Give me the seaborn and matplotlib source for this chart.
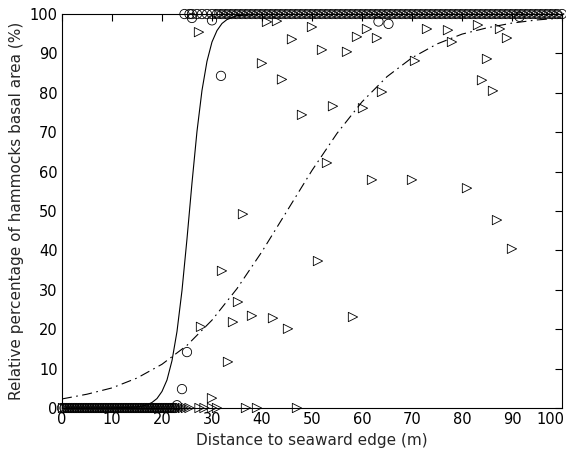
import matplotlib
matplotlib.use("Agg")
import matplotlib.pyplot as plt
import matplotlib.transforms as mtransforms
import seaborn as sns
import pandas as pd

# observations sitting on the 0 % line (circles = first group, triangles = second group)
circ_zero_x = [0, 0.5, 1, 1.5, 2, 2.5, 3, 3.5, 4, 4.5, 5, 5.5, 6, 6.5, 7, 7.5, 8, 8.5,
               9, 9.5, 10, 10.5, 11, 11.5, 12, 12.5, 13, 13.5, 14, 14.5, 15, 15.5, 16,
               16.5, 17, 17.5, 18, 18.5, 19, 19.5, 20, 20.5, 21, 21.5, 22, 22.5]
tri_zero_x = [0.2, 0.7, 1.2, 1.7, 2.2, 2.7, 3.2, 3.7, 4.2, 4.7, 5.2, 5.7, 6.2, 6.7, 7.2,
              7.7, 8.2, 8.7, 9.2, 9.7, 10.2, 10.7, 11.2, 11.7, 12.2, 12.7, 13.2, 13.7,
              14.2, 14.7, 15.2, 15.7, 16.2, 16.7, 17.2, 17.7, 18.2, 18.7, 19.2, 19.7,
              20.2, 20.7, 21.2, 21.7, 22.2, 22.7, 23.2, 23.7, 24.2, 24.8, 25.5,
              27.5, 28.5, 30, 31, 36.8, 39, 47]

# observations sitting on the 100 % line
circ_full_x = [24.5, 25.5, 26, 27, 28, 29, 30, 31, 32, 33, 34, 35, 36, 37, 38, 39, 40, 41,
               42, 43, 44, 45, 46, 47, 48, 49, 50, 51, 52, 53, 54, 55, 56, 57, 58, 59, 60,
               61, 62, 63, 64, 65, 66, 67, 68, 69, 70, 71, 72, 73, 74, 75, 76, 77, 78, 79,
               80, 81, 82, 83, 84, 85, 86, 87, 88, 89, 90, 91, 92, 93, 94, 95, 96, 97,
               98, 99, 100]
tri_full_x = [31.5, 32.5, 33.5, 34.5, 35.5, 36.5, 37.5, 38.5, 39.5, 40.5, 41.5, 42.5,
              43.5, 44.5, 45.5, 46.5, 47.5, 48.5, 49.5, 50.5, 51.5, 52.5, 53.5, 54.5,
              55.5, 56.5, 57.5, 58.5, 59.5, 60.5, 61.5, 62.5, 63.5, 64.5, 65.5, 66.5,
              67.5, 68.5, 69.5, 70.5, 71.5, 72.5, 73.5, 74.5, 75.5, 76.5, 77.5, 78.5,
              79.5, 80.5, 81.5, 82.5, 83.5, 84.5, 85.5, 86.5, 87.5, 88.5, 89.5, 90.5,
              91.5, 92.5, 93.5, 94.5, 95.5, 96.5, 97.5, 98.5, 99.5]

# scattered intermediate observations
circ_mid_x = [23, 24, 25, 26, 30, 31.8, 63.3, 65.3, 91.5]
circ_mid_y = [0.7, 4.8, 14.2, 99.0, 98.4, 84.3, 98.1, 97.5, 99.3]

tri_mid_x = [27.4, 41, 43, 50, 46, 52, 57, 40, 44, 59, 61, 63, 48, 54.2, 60.2, 64,
             73, 77.2, 83.2, 87.6, 89, 78, 70.6, 85, 84, 86.2, 70, 81, 87, 90,
             36.2, 53, 62, 51.2, 32, 27.8, 34.2, 33.2, 38, 42.2, 45.2, 58.2, 35.2, 30]
tri_mid_y = [95.4, 98, 98.2, 96.7, 93.6, 90.9, 90.4, 87.5, 83.4, 94.2, 96.2, 93.9,
             74.4, 76.6, 76.1, 80.2, 96.2, 95.9, 97.2, 96.2, 93.9, 92.9, 88.1, 88.6,
             83.2, 80.5, 57.9, 55.8, 47.7, 40.4, 49.2, 62.2, 57.9, 37.3, 34.8, 20.6,
             21.8, 11.7, 23.4, 22.8, 20.1, 23.1, 26.9, 2.5]

# fitted curves
curve_a_x = [0, 10, 15, 17, 18, 19, 20, 21, 22, 23, 24, 25, 26, 27, 28, 29, 30, 31,
             32, 33, 35, 40, 50, 100]
curve_a_y = [0, 0.02, 0.25, 0.78, 1.4, 2.4, 4.2, 7.1, 12.0, 19.4, 29.8, 42.9, 57.1,
             70.2, 80.6, 88.0, 92.9, 95.8, 97.6, 98.6, 99.6, 99.97, 100, 100]
curve_b_x = [0, 5, 10, 15, 20, 25, 30, 35, 40, 45, 50, 55, 60, 65, 70, 75, 80, 85,
             90, 95, 100]
curve_b_y = [2.3, 3.5, 5.1, 7.6, 11.1, 15.9, 22.3, 30.3, 39.7, 50, 60.3, 69.7, 77.7,
             84.1, 88.9, 92.4, 94.9, 96.5, 97.7, 98.5, 99.0]

sns.set_style("white")
plt.rcParams['font.family'] = ['DejaVu Sans']

circles = pd.DataFrame({
    'x': circ_zero_x + circ_full_x + circ_mid_x,
    'y': [0] * len(circ_zero_x) + [100] * len(circ_full_x) + circ_mid_y,
})
triangles = pd.DataFrame({
    'x': tri_zero_x + tri_full_x + tri_mid_x,
    'y': [0] * len(tri_zero_x) + [100] * len(tri_full_x) + tri_mid_y,
})

fig = plt.figure(figsize=(5.66, 4.57), dpi=100)
ax = fig.add_axes([0.1095, 0.1072, 0.8834, 0.8621])

sns.scatterplot(data=circles, x='x', y='y', marker='o', s=45, facecolors='none',
                edgecolor='black', linewidth=0.6, ax=ax, clip_on=False, zorder=3)
sns.scatterplot(data=triangles, x='x', y='y', marker='>', s=45, facecolors='none',
                edgecolor='black', linewidth=0.6, ax=ax, clip_on=False, zorder=3)

sns.lineplot(x=curve_a_x, y=curve_a_y, color='black', lw=0.8, ax=ax, sort=False)
sns.lineplot(x=curve_b_x, y=curve_b_y, color='black', lw=0.8, ax=ax, sort=False,
             linestyle=(0, (9, 4, 1.5, 4)))

ax.set_xlim(0, 100)
ax.set_ylim(0, 100)
ax.set_xticks(range(0, 101, 10))
ax.set_yticks(range(0, 101, 10))
ax.tick_params(direction='in', length=5, width=0.8, top=True, right=True,
               labelsize=10.5, pad=3, colors='black')
for sp in ax.spines.values():
    sp.set_linewidth(0.8)
    sp.set_color('black')

# keep the "100" label inside the figure, like the original
fig.canvas.draw()
last = ax.get_xticklabels()[-1]
last.set_transform(last.get_transform() +
                   mtransforms.ScaledTranslation(-12 / 100, 0, fig.dpi_scale_trans))

ax.set_xlabel('Distance to seaward edge (m)', fontsize=11, labelpad=4)
ax.set_ylabel('Relative percentage of hammocks basal area (%)', fontsize=11, labelpad=4)

fig.savefig('out.png', dpi=100, facecolor='white')
